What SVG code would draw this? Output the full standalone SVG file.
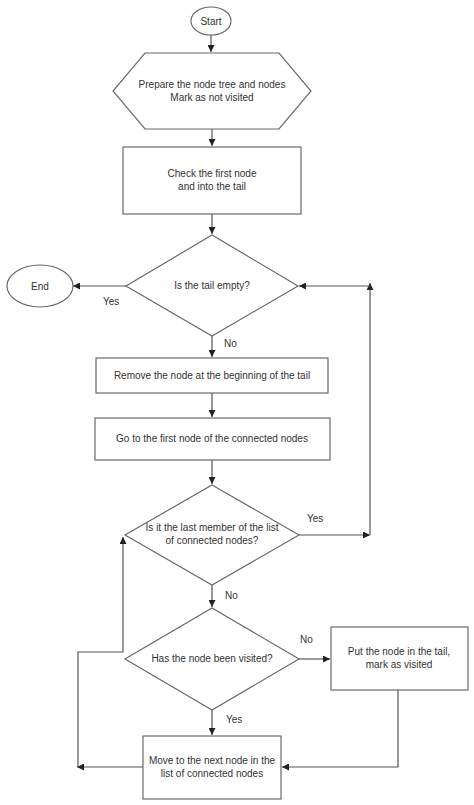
<svg xmlns="http://www.w3.org/2000/svg" width="474" height="805" viewBox="0 0 474 805">
<style>
.n{fill:#fff;stroke:#6a6a6a;stroke-width:1.2}
.t{font-family:"Liberation Sans",Arial,sans-serif;font-size:10px;fill:#333;text-anchor:middle}
.l{font-family:"Liberation Sans",Arial,sans-serif;font-size:10px;fill:#333}
.c{fill:none;stroke:#555;stroke-width:1.2}
</style>
<defs>
<marker id="a" viewBox="0 0 10 10" refX="10" refY="5" markerWidth="7" markerHeight="7" markerUnits="userSpaceOnUse" orient="auto">
<path d="M0,0L10,5L0,10z" fill="#222"/>
</marker>
</defs>
<rect width="474" height="805" fill="#fff"/>
<g id="connectors">
<path class="c" d="M211,35V52" marker-end="url(#a)"/>
<path class="c" d="M212,129V146" marker-end="url(#a)"/>
<path class="c" d="M212,214V234" marker-end="url(#a)"/>
<path class="c" d="M126,286H73" marker-end="url(#a)"/>
<path class="c" d="M212,336V357" marker-end="url(#a)"/>
<path class="c" d="M212,393V417" marker-end="url(#a)"/>
<path class="c" d="M212,460V484" marker-end="url(#a)"/>
<path class="c" d="M299,535H370" marker-end="url(#a)"/>
<path class="c" d="M370,535V283" marker-end="url(#a)"/>
<path class="c" d="M370,286H299" marker-end="url(#a)"/>
<path class="c" d="M212,585V607" marker-end="url(#a)"/>
<path class="c" d="M299,659H330" marker-end="url(#a)"/>
<path class="c" d="M212,710V735" marker-end="url(#a)"/>
<path class="c" d="M398,690V767H282" marker-end="url(#a)"/>
<path class="c" d="M143,767H77" marker-end="url(#a)"/>
<path class="c" d="M78,767V652H123V537" marker-end="url(#a)"/>
</g>
<g id="start">
<ellipse class="n" cx="211" cy="21" rx="20" ry="14"/>
<text class="t" x="211" y="25">Start</text>
</g>
<g id="prepare">
<polygon class="n" points="145,53 279,53 311,91 279,129 145,129 113,91"/>
<text class="t" x="212" y="88">Prepare the node tree and nodes</text>
<text class="t" x="212" y="101">Mark as not visited</text>
</g>
<g id="check">
<rect class="n" x="123" y="147" width="178" height="67"/>
<text class="t" x="212" y="177">Check the first node</text>
<text class="t" x="212" y="190">and into the tail</text>
</g>
<g id="empty">
<polygon class="n" points="212,235 298,286 212,336 126,286"/>
<text class="t" x="212" y="289">Is the tail empty?</text>
</g>
<g id="end">
<ellipse class="n" cx="40" cy="286" rx="33" ry="21"/>
<text class="t" x="40" y="290">End</text>
</g>
<g id="remove">
<rect class="n" x="96" y="358" width="232" height="35"/>
<text class="t" x="212" y="379">Remove the node at the beginning of the tail</text>
</g>
<g id="goto">
<rect class="n" x="95" y="418" width="235" height="42"/>
<text class="t" x="212" y="442">Go to the first node of the connected nodes</text>
</g>
<g id="last">
<polygon class="n" points="212,485 299,535 212,585 125,535"/>
<text class="t" x="212" y="531">Is it the last member of the list</text>
<text class="t" x="212" y="544">of connected nodes?</text>
</g>
<g id="visited">
<polygon class="n" points="212,608 299,659 212,710 125,659"/>
<text class="t" x="212" y="662">Has the node been visited?</text>
</g>
<g id="put">
<rect class="n" x="331" y="627" width="137" height="63"/>
<text class="t" x="399" y="655">Put the node in the tail,</text>
<text class="t" x="399" y="668">mark as visited</text>
</g>
<g id="move">
<rect class="n" x="143" y="736" width="138" height="63"/>
<text class="t" x="212" y="764">Move to the next node in the</text>
<text class="t" x="212" y="777">list of connected nodes</text>
</g>
<g id="labels">
<text class="l" x="103" y="305">Yes</text>
<text class="l" x="224" y="347">No</text>
<text class="l" x="307" y="522">Yes</text>
<text class="l" x="225" y="599">No</text>
<text class="l" x="300" y="643">No</text>
<text class="l" x="226" y="723">Yes</text>
</g>
</svg>
